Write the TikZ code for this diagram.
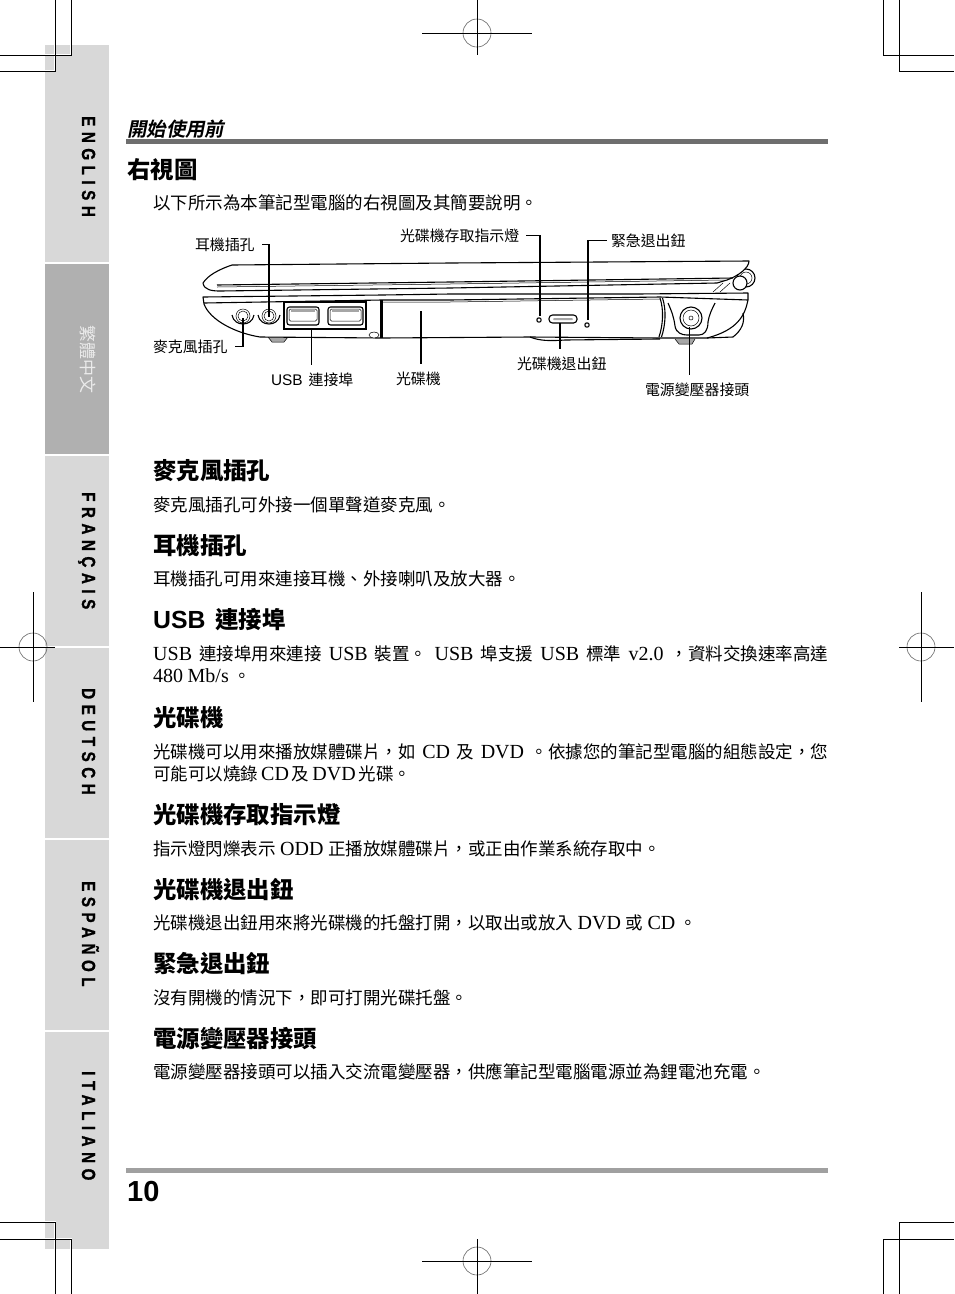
\documentclass[tikz,border=0pt]{standalone}
\usepackage{fontspec}
\setmainfont{Noto Sans CJK TC}
\newfontfamily\latfont{Liberation Serif}
\newfontfamily\lasfont{Liberation Sans}
\newfontfamily\tabfont[LetterSpace=29,FakeStretch=0.8,FakeBold=1]{Liberation Sans Bold}
\newfontfamily\slantfont[FakeSlant=0.2]{Noto Sans CJK TC Bold}
\usetikzlibrary{positioning}
\newcommand{\lat}[1]{{\latfont\fontsize{20}{20}\selectfont #1}}
\newcommand{\las}[1]{{\lasfont\fontsize{15.4}{18}\selectfont #1}}
\newcommand{\hla}[1]{{\lasfont\bfseries\fontsize{24.8}{26}\selectfont #1}}
\newcommand{\bodyfont}{\fontsize{17.5}{20}\selectfont\spaceskip 4.5pt plus 6pt minus 1pt\relax}
\newcommand{\headfont}{\bfseries\fontsize{23.4}{26}\selectfont\spaceskip 10pt\relax}
\newcommand{\labelfont}{\fontsize{14.9}{18}\selectfont\spaceskip 6pt\relax}
\begin{document}
\begin{tikzpicture}[x=1pt, y=-1pt]
    \tikzstyle{every node} = [inner sep=0pt]
    \tikzstyle{bodytext} = [anchor=base west, font=\bodyfont]
    \tikzstyle{headtext} = [anchor=base west, font=\headfont]
    \tikzstyle{labeltext} = [anchor=base west, outer sep=7pt, xshift=-7pt, font=\labelfont]
    \tikzstyle{tabname} = [anchor=base west, rotate=-90, font=\tabfont\fontsize{19}{20}\selectfont]
    \tikzstyle{crop} = [black, line width=0.8pt]
    \tikzstyle{halo} = [white, line width=2.6pt]
    \tikzstyle{leader} = [black, line width=1.5pt]
    \tikzstyle{thinleader} = [black, line width=0.8pt]
    \tikzstyle{body} = [black, line width=1.1pt, line join=round]
    \tikzstyle{fine} = [black, line width=0.5pt]
    \definecolor{tabgray}{HTML}{D8D8D8}
    \definecolor{tabdark}{HTML}{B0B0B0}
    \definecolor{ruledark}{HTML}{6E6E6E}
    \definecolor{rulelight}{HTML}{A0A0A0}
    \definecolor{regring}{HTML}{666666}

    \useasboundingbox (0,0) rectangle (954,1294);

    \foreach \ya/\yb in {45/262, 456/646, 648/838, 840/1030, 1032/1249}
        \fill[tabgray] (45,\ya) rectangle (109,\yb);
    \fill[tabdark] (45,264) rectangle (109,454);

    \node[tabname] (tabeng) at (82,116) {ENGLISH};
    \node[anchor=west, rotate=-90, text=white!92!black, font=\fontsize{17}{18}\selectfont] (tabcht) at (88,325) {繁體中文};
    \node[tabname] (tabfra) at (82,492) {FRANÇAIS};
    \node[tabname] (tabdeu) at (82,688) {DEUTSCH};
    \node[tabname] (tabesp) at (82,881) {ESPAÑOL};
    \node[tabname] (tabita) at (82,1071) {ITALIANO};

    \foreach \xa/\ya/\xb/\yb in {71/0/0/55, 55/0/0/71, 883/0/954/55, 899/0/954/71, 55/1294/0/1222, 71/1294/0/1239, 899/1294/954/1222, 883/1294/954/1239}
        \draw[halo] (\xa,\ya) |- (\xb,\yb);
    \foreach \xa/\ya/\xb/\yb in {71/0/0/55, 55/0/0/71, 883/0/954/55, 899/0/954/71, 55/1294/0/1222, 71/1294/0/1239, 899/1294/954/1222, 883/1294/954/1239}
        \draw[crop] (\xa,\ya) |- (\xb,\yb);

    \foreach \rx/\ry/\ax/\bx/\ay/\by in {477/33/422/532/0/55, 477/1261/422/532/1239/1294, 33/647/0/55/592/702, 921/647/899/954/592/702} {
        \draw[regring, line width=0.6pt] (\rx,\ry) circle (14);
        \draw[crop] (\ax,\ry) -- (\bx,\ry);
        \draw[crop] (\rx,\ay) -- (\rx,\by);
    }

    \fill[ruledark] (126,139) rectangle (828,144);
    \fill[rulelight] (126,1168) rectangle (828,1173);

    \node[anchor=base west, font=\slantfont\fontsize{19.4}{22}\selectfont] (chapter) at (127,136) {開始使用前};
    \node[headtext] (righthead) at (127,178) {右視圖};
    \node[bodytext] (intro) at (153,209) {以下所示為本筆記型電腦的右視圖及其簡要說明。};

    \node[headtext] (headmic) at (153,479) {麥克風插孔};
    \node[bodytext] (textmic) at (153,511) {麥克風插孔可外接一個單聲道麥克風。};
    \node[headtext] (headear) at (153,554) {耳機插孔};
    \node[bodytext] (textear) at (153,585) {耳機插孔可用來連接耳機、外接喇叭及放大器。};
    \node[headtext] (headusb) at (153,628) {\hla{USB} 連接埠};
    \node[bodytext] (textusba) at (153,660) {\makebox[675pt][s]{\lat{USB} 連接埠用來連接 \lat{USB} 裝置。 \lat{USB} 埠支援 \lat{USB} 標準 \lat{v2.0} ，資料交換速率高達}};
    \node[bodytext] (textusbb) at (153,682) {\lat{480 Mb/s} 。};
    \node[headtext] (headodd) at (153,726) {光碟機};
    \node[bodytext] (textodda) at (153,758) {\makebox[675pt][s]{光碟機可以用來播放媒體碟片，如 \lat{CD} 及 \lat{DVD} 。依據您的筆記型電腦的組態設定，您}};
    \node[bodytext] (textoddb) at (153,780) {\spaceskip 3pt\relax 可能可以燒錄 \lat{CD} 及 \lat{DVD} 光碟。};
    \node[headtext] (headled) at (153,823) {光碟機存取指示燈};
    \node[bodytext] (textled) at (153,855) {指示燈閃爍表示 \lat{ODD} 正播放媒體碟片，或正由作業系統存取中。};
    \node[headtext] (headeject) at (153,898) {光碟機退出鈕};
    \node[bodytext] (texteject) at (153,929) {光碟機退出鈕用來將光碟機的托盤打開，以取出或放入 \lat{DVD} 或 \lat{CD} 。};
    \node[headtext] (heademg) at (153,972) {緊急退出鈕};
    \node[bodytext] (textemg) at (153,1004) {沒有開機的情況下，即可打開光碟托盤。};
    \node[headtext] (headpow) at (153,1047) {電源變壓器接頭};
    \node[bodytext] (textpow) at (153,1078) {電源變壓器接頭可以插入交流電變壓器，供應筆記型電腦電源並為鋰電池充電。};
    \node[anchor=base west, font=\lasfont\bfseries\fontsize{29}{30}\selectfont] (pageno) at (127,1201) {10};

    % hinge and lid
    \draw[body, fill=white] (746,278) circle (9);
    \draw[fine] (746,278) circle (6);
    \draw[body, fill=white] (740,283) circle (7);
    \draw[fine] (713,292) -- (723,283);
    \draw[fine] (720,292) -- (730,283);
    \draw[body, fill=white] (203,283) .. controls (208,275) and (220,269) .. (232,265) -- (450,263) -- (749,261)
        .. controls (749,268) and (738,276) .. (727,280) -- (717,283) -- (450,288) -- (220,291)
        .. controls (212,291) and (204,290) .. (203,283) -- cycle;
    \draw[body] (217,285) -- (450,282) -- (733,278);
    \draw[fine] (217,287) -- (450,284) -- (725,280);

    % base
    \fill[black!35] (268,337) -- (288,337) -- (284,342) -- (272,342) -- cycle;
    \draw[fine] (268,337) -- (272,342) -- (284,342) -- (288,337);
    \fill[black!35] (675,339) -- (695,339) -- (692,344) -- (679,344) -- cycle;
    \draw[fine] (675,339) -- (679,344) -- (692,344) -- (695,339);
    \draw[body, fill=white] (203,297) -- (382,295) -- (450,294) -- (637,294) -- (748,293) -- (748,300)
        .. controls (745,315) and (738,330) .. (707,338) -- (660,338) -- (530,337) -- (382,338) -- (260,337)
        .. controls (235,333) and (210,320) .. (204,304) -- cycle;
    \draw[body] (743,313) .. controls (745,322) and (742,330) .. (733,337) -- (707,338);
    \draw[body] (530,337) .. controls (540,341) and (550,341) .. (565,340) -- (660,339);
    \draw[body] (204,303) -- (382,300) -- (450,300) -- (660,297) -- (748,300);
    \draw[fine] (382,302) -- (450,302) -- (660,299);
    \draw[body] (382,300) -- (382,338);
    \draw[fine] (380,300) -- (380,338);
    \draw[body] (660,298) .. controls (664,310) and (663,325) .. (659,337);
    \draw[body] (662.5,298) .. controls (666.5,310) and (665.5,325) .. (661.5,337);
    \draw[fine, fill=white] (374,335) ellipse (5 and 3);

    % ports
    \foreach \px in {243,269} {
        \draw[fine] (\px,316) circle (7);
        \draw[fine] (\px,316) circle (5);
        \draw[body] (\px-11,315) .. controls (\px-9,327) and (\px+9,327) .. (\px+11,315);
    }
    \draw[leader] (284,302) rectangle (366,329);
    \foreach \ux/\uw in {287/32,328/35} {
        \draw[body, rounded corners=2.5pt] (\ux,307) rectangle ++(\uw,18);
        \draw[fine, rounded corners=1.5pt] (\ux+2,309) rectangle ++(\uw-4,12);
        \fill[black!35] (\ux+4,310) rectangle ++(\uw-8,1.5);
    }
    \draw[body, fill=white] (539,320) circle (2.2);
    \draw[body, fill=white] (587,325) circle (2.2);
    \draw[body, fill=white, rounded corners=3.5pt] (549,315) rectangle (577,323);
    \fill[black!35, rounded corners=1pt] (553,318) rectangle (573,320);
    \draw[body] (668,303) .. controls (672,312) and (674,318) .. (675,326) .. controls (676,333) and (682,335) .. (687,335)
        -- (699,335) .. controls (704,335) and (708,331) .. (708,322) .. controls (709,315) and (712,309) .. (715,303);
    \draw[body, fill=white] (691,318) circle (11);
    \draw[fine] (691,318) circle (8);
    \draw[fine] (691,318) circle (2);

    \coordinate (micport) at (243,318);
    \coordinate (earport) at (269,317);
    \coordinate (usbport) at (311,330);
    \coordinate (oddport) at (421,311);
    \coordinate (ledport) at (540,316);
    \coordinate (ejectport) at (560,323);
    \coordinate (emgport) at (588,320);
    \coordinate (powport) at (689,327);

    \node[labeltext] (labelear) at (195,250) {耳機插孔};
    \node[labeltext] (labelled) at (400,241) {光碟機存取指示燈};
    \node[labeltext] (labelemg) at (611,246) {緊急退出鈕};
    \node[labeltext] (labelmic) at (153,352) {麥克風插孔};
    \node[labeltext] (labelusb) at (271,385) {\las{USB} 連接埠};
    \node[labeltext] (labelodd) at (396,384) {光碟機};
    \node[labeltext] (labeleject) at (517,369) {光碟機退出鈕};
    \node[labeltext] (labelpow) at (645,395) {電源變壓器接頭};

    \draw[leader] (earport) |- (labelear.east);
    \draw[leader] (micport) |- (labelmic.east);
    \draw[leader] (ledport) |- (labelled.east);
    \draw[leader, shorten >=-3pt] (emgport) |- (labelemg.west);
    \draw[thinleader] (usbport) -- (usbport |- labelusb.north);
    \draw[leader] (oddport) -- (oddport |- labelodd.north);
    \draw[leader] (ejectport) -- (ejectport |- labeleject.north);
    \draw[thinleader] (powport) -- (powport |- labelpow.north);
\end{tikzpicture}
\end{document}
